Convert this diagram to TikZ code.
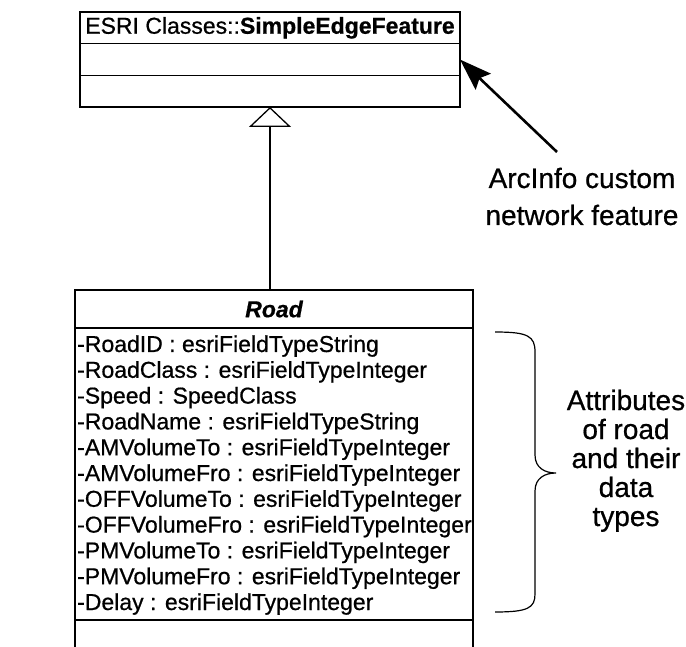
\documentclass[tikz,border=0pt]{standalone}
\usepackage{fontspec}
\setmainfont{Liberation Sans}[RawFeature={embolden=0.7}]
\usetikzlibrary{arrows.meta}
\begin{document}
\begin{tikzpicture}[x=1pt,y=-1pt,
  box/.style={draw, line width=1.2pt, inner sep=0pt, outer sep=0pt, anchor=north west},
  topfont/.style={font=\fontsize{23}{27}\selectfont},
  attr/.style={font=\fontsize{23}{27}\selectfont, inner sep=0pt, anchor=base west},
  lbl/.style={font=\fontsize{28}{34}\selectfont, inner sep=0pt, anchor=base},
  conn/.style={line width=1.2pt},
  pointer/.style={line width=2.6pt, -{Stealth[length=32pt,width=22pt,inset=5pt]}},
  gen/.style={line width=1.2pt, -{Triangle[open,fill=white,length=20pt,width=42pt,line width=1.3pt]}}
]
\useasboundingbox (0,0) rectangle (686,647);

% ESRI Classes::SimpleEdgeFeature class
\node[box, topfont, minimum width=380pt, minimum height=31.7pt] (sefT) at (80,12)
  {ESRI Classes::\textbf{SimpleEdgeFeature}};
\node[box, minimum width=380pt, minimum height=31.7pt] (sefA) at (sefT.south west) {};
\node[box, minimum width=380pt, minimum height=31.6pt] (sefO) at (sefA.south west) {};

% Road class
\node[box, minimum width=398pt, minimum height=38pt,
      font=\fontsize{23}{27}\selectfont\bfseries\itshape] (roadT) at (75,290) {Road};
\node[box, minimum width=398pt, minimum height=292pt] (roadA) at (roadT.south west) {};
\coordinate (roadBL) at (75,650);
\coordinate (roadBR) at (473,650);
\draw[conn] (roadA.south west) -- (roadBL);
\draw[conn] (roadA.south east) -- (roadBR);

\foreach \t [count=\i] in {
  -RoadID : esriFieldTypeString,
  -RoadClass : esriFieldTypeInteger,
  -Speed : SpeedClass,
  -RoadName : esriFieldTypeString,
  -AMVolumeTo : esriFieldTypeInteger,
  -AMVolumeFro : esriFieldTypeInteger,
  -OFFVolumeTo : esriFieldTypeInteger,
  -OFFVolumeFro : esriFieldTypeInteger,
  -PMVolumeTo : esriFieldTypeInteger,
  -PMVolumeFro : esriFieldTypeInteger,
  -Delay : esriFieldTypeInteger}
  \node[attr] (a\i) at (77,{352+(\i-1)*25.8}) {\t};

% generalization
\coordinate (genStart) at (roadT.north -| sefO.south);
\draw[gen] (genStart) -- (sefO.south);

% ArcInfo label and pointer
\node[lbl] (arc1) at (582,188) {ArcInfo custom};
\node[lbl] (arc2) at (582,225) {network feature};
\coordinate (arrTail) at (557,152);
\draw[pointer] (arrTail) -- (sefA.east);

% brace
\coordinate (brTop) at (495,332);
\coordinate (brTip) at (556,473);
\coordinate (brBot) at (495,612);
\draw[line width=1.2pt] (brTop) .. controls (528,332) and (535,336) .. (535,352)
  -- (535,455) .. controls (535,468) and (545,473) .. (brTip)
  .. controls (545,473) and (535,478) .. (535,491)
  -- (535,594) .. controls (535,608) and (528,612) .. (brBot);

% Attributes label
\node[lbl] (t1) at (626,410) {Attributes};
\node[lbl] (t2) at (626,439) {of road};
\node[lbl] (t3) at (626,468) {and their};
\node[lbl] (t4) at (626,497) {data};
\node[lbl] (t5) at (626,526) {types};
\end{tikzpicture}
\end{document}
